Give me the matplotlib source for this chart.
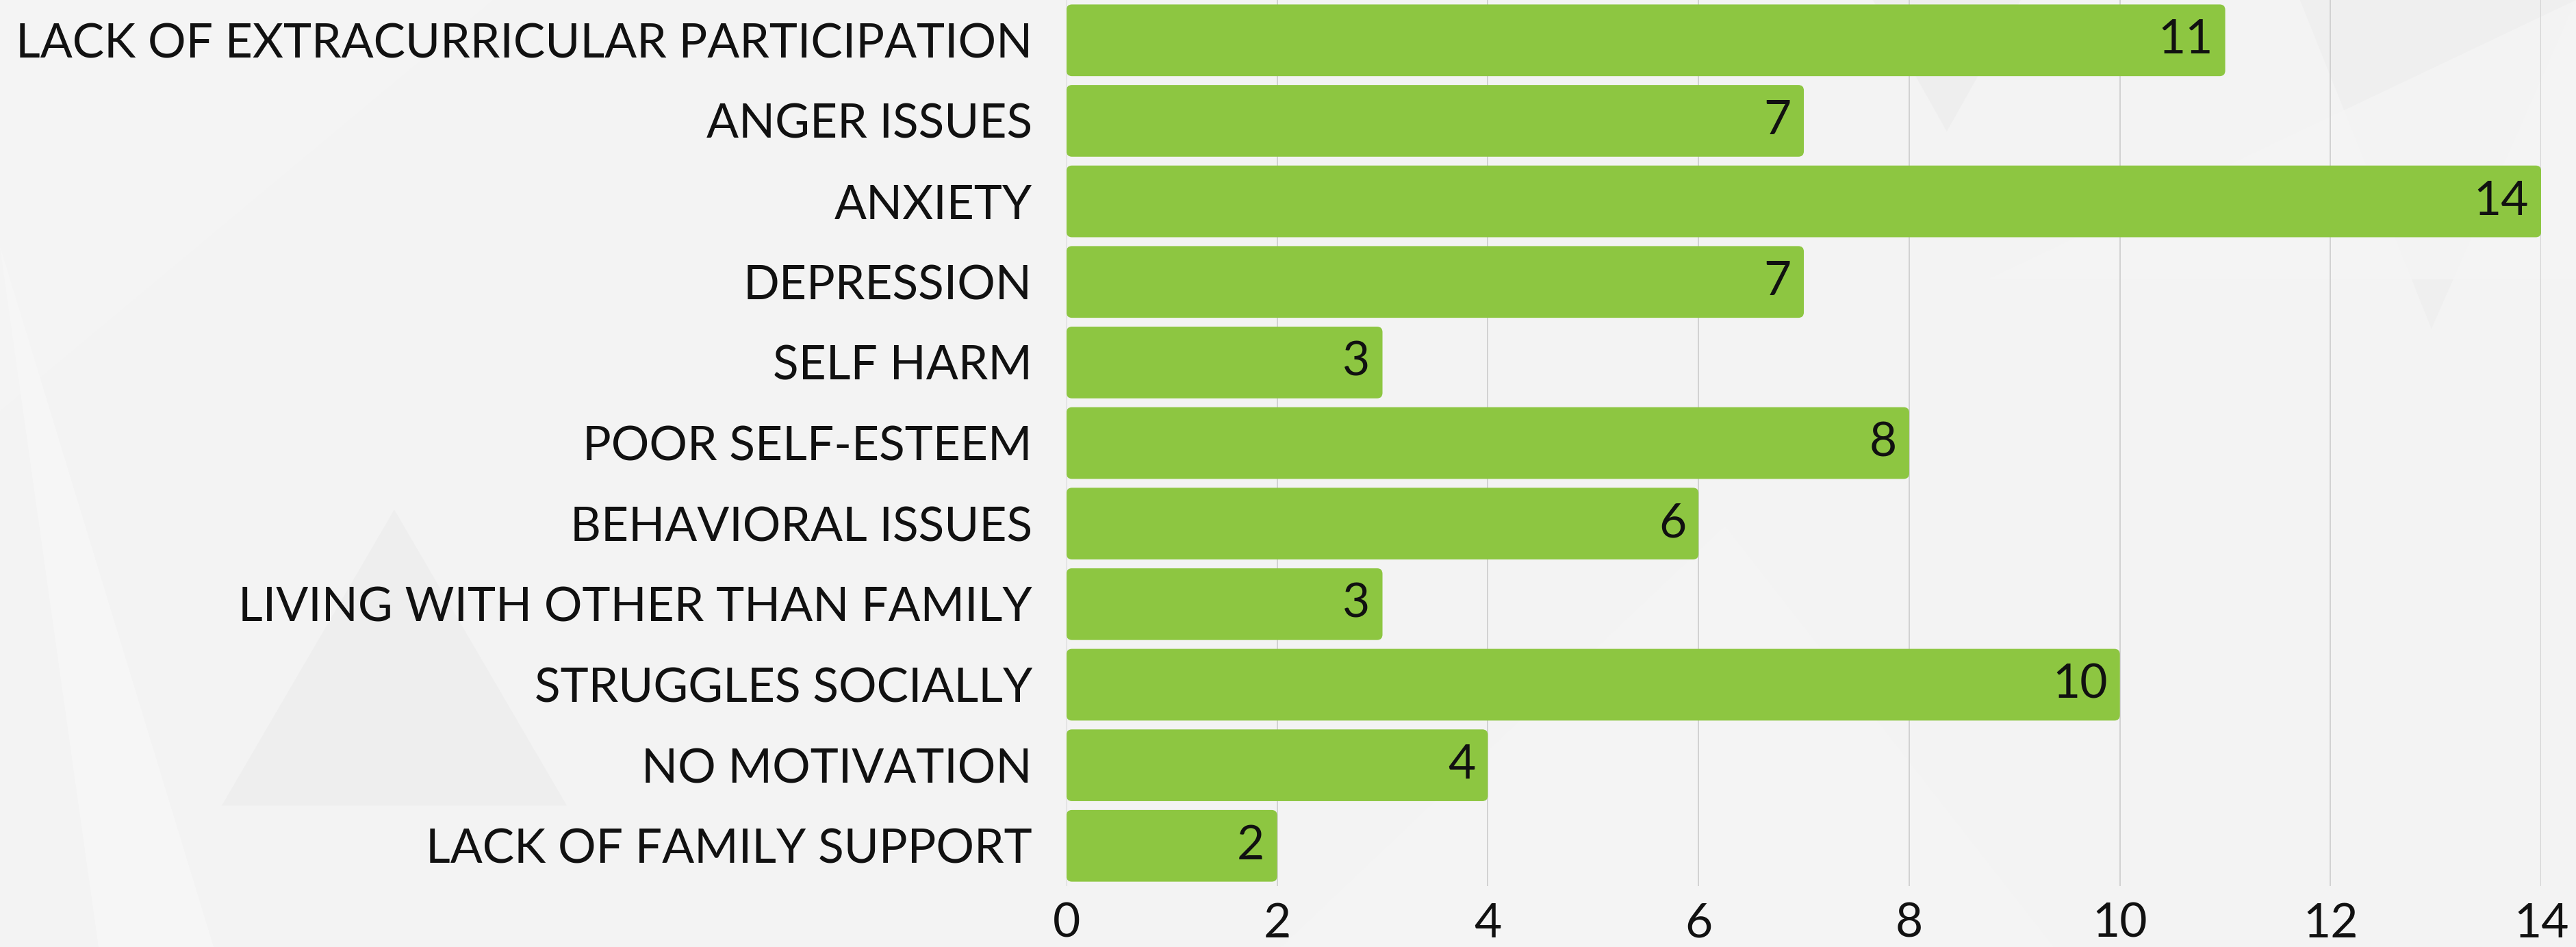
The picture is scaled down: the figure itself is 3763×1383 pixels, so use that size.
import matplotlib
matplotlib.use("Agg")
import matplotlib.pyplot as plt
from matplotlib.patches import Polygon, FancyBboxPatch

categories = [
    "LACK OF EXTRACURRICULAR PARTICIPATION",
    "ANGER ISSUES",
    "ANXIETY",
    "DEPRESSION",
    "SELF HARM",
    "POOR SELF-ESTEEM",
    "BEHAVIORAL ISSUES",
    "LIVING WITH OTHER THAN FAMILY",
    "STRUGGLES SOCIALLY",
    "NO MOTIVATION",
    "LACK OF FAMILY SUPPORT",
]
values = [11, 7, 14, 7, 3, 8, 6, 3, 10, 4, 2]
xticks = [0, 2, 4, 6, 8, 10, 12, 14]

plt.rcParams['font.family'] = ['Lato', 'DejaVu Sans']

W, H, DPI = 3763, 1383, 100
fig = plt.figure(figsize=(W / DPI, H / DPI), dpi=DPI)
fig.patch.set_facecolor("#f3f3f3")

# faint decorative background shapes
bg = fig.add_axes([0, 0, 1, 1], zorder=-10)
bg.set_xlim(0, 1568); bg.set_ylim(576, 0); bg.axis("off")
tris = [
    ([(135, 490), (240, 310), (345, 490)], "#ededed", 0.8),
    ([(0, 150), (60, 576), (130, 576)], "#f8f8f8", 0.8),
    ([(1140, 0), (1230, 0), (1185, 80)], "#ececec", 0.6),
    ([(1400, 0), (1480, 200), (1568, 0)], "#ececec", 0.5),
    ([(1210, 170), (1568, 170), (1568, 0)], "#f6f6f6", 0.6),
    ([(780, 576), (1050, 320), (1250, 576)], "#f6f6f6", 0.6),
    ([(0, 0), (300, 0), (0, 250)], "#f6f6f6", 0.6),
]
for pts, c, a in tris:
    bg.add_patch(Polygon(pts, closed=True, facecolor=c, edgecolor="none", alpha=a))

ax = fig.add_axes([0.4140, 0.0643, 0.5725, 0.9357])
ax.set_facecolor("none")
y = list(range(len(categories)))
bars = ax.barh(y, values, height=0.89, color="#8dc641", zorder=3)
ax.set_ylim(len(categories) - 0.5, -0.5)
ax.set_xlim(0, 14)
ax.set_xticks(xticks)
ax.set_xticklabels([str(t) for t in xticks])
ax.set_yticks(y)
ax.set_yticklabels(categories)
ax.tick_params(axis="y", length=0, pad=36, labelsize=50, labelcolor="#111111")
ax.tick_params(axis="x", length=0, pad=17, labelsize=50, labelcolor="#111111")
ax.grid(axis="x", color="#cfcfcf", linewidth=1.3, zorder=0)
for s in ax.spines.values():
    s.set_visible(False)

# rounded bar corners (geometry taken from the bars)
fig.canvas.draw()
bb = ax.get_window_extent()
px_x = bb.width / 14.0
px_y = bb.height / len(categories)
r_x = 8.0 / px_x
for b in bars:
    b.set_visible(False)
    p = FancyBboxPatch((b.get_x(), b.get_y()), b.get_width(), b.get_height(),
                       boxstyle=f"round,pad=0,rounding_size={r_x}",
                       mutation_aspect=px_x / px_y,
                       facecolor="#8dc641", edgecolor="none", zorder=3)
    ax.add_patch(p)

for b, v in zip(bars, values):
    ax.annotate(str(v), (b.get_width(), b.get_y() + b.get_height() / 2),
                xytext=(-13, 0), textcoords="offset points",
                ha="right", va="center", fontsize=50, color="#111111", zorder=4)

fig.savefig("out.png", dpi=DPI, facecolor=fig.get_facecolor())
